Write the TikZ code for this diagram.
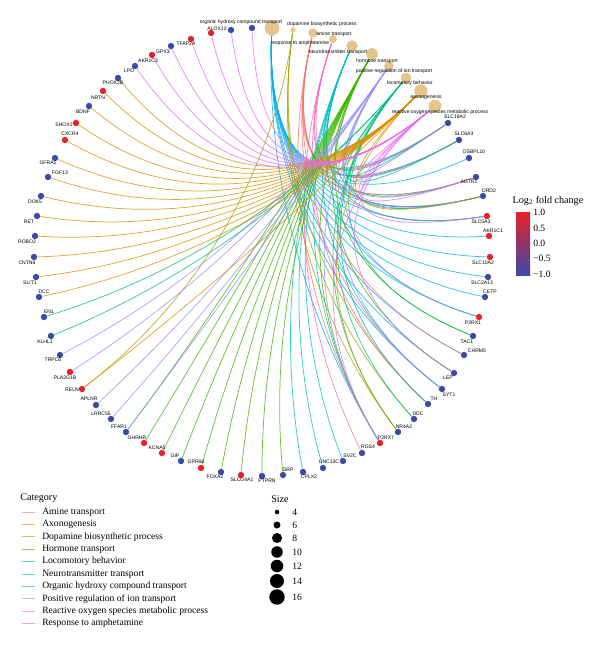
\documentclass[tikz,border=0pt]{standalone}
\usepackage{fontspec}
\setmainfont{Liberation Serif}
\newfontfamily\genefont{Liberation Sans}
\usetikzlibrary{calc,backgrounds}

\definecolor{up}{HTML}{E8202A}
\definecolor{down}{HTML}{3A4AA6}
\definecolor{catfill}{HTML}{E6C48E}
\definecolor{cAmine}{HTML}{F8766D}
\definecolor{cAxon}{HTML}{D89000}
\definecolor{cDopa}{HTML}{A3A500}
\definecolor{cHorm}{HTML}{39B600}
\definecolor{cLoco}{HTML}{00BF7D}
\definecolor{cNeuro}{HTML}{00BFC4}
\definecolor{cOrg}{HTML}{00B0F6}
\definecolor{cIon}{HTML}{9590FF}
\definecolor{cRos}{HTML}{E76BF3}
\definecolor{cAmph}{HTML}{FF62BC}

\begin{document}
\begin{tikzpicture}[x=0.75pt, y=-0.75pt,
		gene/.style={circle, inner sep=0pt, minimum size=4.8pt},
		glab/.style={font=\genefont\fontsize{3.8}{4}\selectfont, inner sep=0pt},
		catnode/.style={circle, fill=catfill, inner sep=0pt, minimum size=#1},
		link/.style={line width=0.55pt, draw opacity=0.8, draw=#1},
		legtext/.style={font=\fontsize{7.2}{8}\selectfont, anchor=west, inner sep=0pt},
		legline/.style={line width=0.6pt, draw opacity=0.6, draw=#1}
	]
	\useasboundingbox (0,0) rectangle (600,650);
	\coordinate (O) at (262,250);

	% categories
	\node[catnode=11.2pt] (org) at (272,28) {};
	\node[catnode=4pt] (dopa) at (293,30) {};
	\node[catnode=7pt] (amine) at (313,33) {};
	\node[catnode=6pt] (amph) at (333,39) {};
	\node[catnode=8.5pt] (neuro) at (352,46) {};
	\node[catnode=8.8pt] (horm) at (372,54) {};
	\node[catnode=7.3pt] (ion) at (389,66) {};
	\node[catnode=8pt] (loco) at (406,78) {};
	\node[catnode=10pt] (axon) at (421,91) {};
	\node[catnode=9.5pt] (ros) at (435,106) {};

	\node[glab] (torg) at (241,22) {organic hydroxy compound transport};
	\node[glab] (tdopa) at (322,24) {dopamine biosynthetic process};
	\node[glab] (tamine) at (334,34) {amine transport};
	\node[glab] (tamph) at (300,43) {response to amphetamine};
	\node[glab] (tneuro) at (338,52) {neurotransmitter transport};
	\node[glab] (thorm) at (377,61) {hormone transport};
	\node[glab] (tion) at (394,71) {positive regulation of ion transport};
	\node[glab] (tloco) at (410,83) {locomotory behavior};
	\node[glab] (taxon) at (426,97) {axonogenesis};
	\node[glab] (tros) at (440,112) {reactive oxygen species metabolic process};

	% genes
	\node[gene, fill=down] (SLC18A2) at (448,123) {};
	\node[gene, fill=down] (SLC6A3) at (459,140) {};
	\node[gene, fill=down] (OSBPL10) at (469,158) {};
	\node[gene, fill=down] (AGTR1) at (476,177) {};
	\node[gene, fill=down] (DRD2) at (483,196) {};
	\node[gene, fill=up] (SLC5A3) at (487,216) {};
	\node[gene, fill=up] (AKR1C1) at (489,236) {};
	\node[gene, fill=up] (SLC10A2) at (490,257) {};
	\node[gene, fill=down] (SLC2A13) at (488,277) {};
	\node[gene, fill=down] (CETP) at (485,297) {};
	\node[gene, fill=up] (P2RX1) at (479,317) {};
	\node[gene, fill=down] (TAC1) at (473,336) {};
	\node[gene, fill=down] (CHRM5) at (464,355) {};
	\node[gene, fill=down] (LEP) at (454,373) {};
	\node[gene, fill=down] (SYT1) at (442,389) {};
	\node[gene, fill=down] (TH) at (428,404) {};
	\node[gene, fill=down] (DDC) at (414,419) {};
	\node[gene, fill=down] (NR4A2) at (398,432) {};
	\node[gene, fill=up] (P2RX7) at (380,443) {};
	\node[gene, fill=down] (RGS4) at (362,453) {};
	\node[gene, fill=down] (SV2C) at (343,461) {};
	\node[gene, fill=down] (UNC13C) at (323,468) {};
	\node[gene, fill=down] (CPLX2) at (303,472) {};
	\node[gene, fill=down] (GRP) at (283,475) {};
	\node[gene, fill=down] (PTPRN) at (262,476) {};
	\node[gene, fill=up] (SLCO4A1) at (241,475) {};
	\node[gene, fill=down] (FOXA2) at (221,472) {};
	\node[gene, fill=up] (GPR68) at (201,468) {};
	\node[gene, fill=down] (GIP) at (181,461) {};
	\node[gene, fill=up] (KCNA5) at (162,453) {};
	\node[gene, fill=up] (GHRHR) at (144,443) {};
	\node[gene, fill=down] (FFAR1) at (126,432) {};
	\node[gene, fill=down] (LRRC55) at (111,419) {};
	\node[gene, fill=down] (APLNR) at (96,405) {};
	\node[gene, fill=up] (RELN) at (82,389) {};
	\node[gene, fill=up] (PLA2G1B) at (70,372) {};
	\node[gene, fill=down] (TRPC6) at (60,355) {};
	\node[gene, fill=down] (KLHL1) at (51,336) {};
	\node[gene, fill=down] (EN1) at (44,317) {};
	\node[gene, fill=down] (DCC) at (39,297) {};
	\node[gene, fill=down] (SLIT1) at (36,277) {};
	\node[gene, fill=down] (CNTN6) at (34,257) {};
	\node[gene, fill=down] (ROBO2) at (35,236) {};
	\node[gene, fill=down] (RET) at (37,216) {};
	\node[gene, fill=down] (DOK5) at (41,196) {};
	\node[gene, fill=down] (FGF13) at (48,177) {};
	\node[gene, fill=down] (GFRA1) at (55,158) {};
	\node[gene, fill=up] (CXCR4) at (65,140) {};
	\node[gene, fill=up] (SHOX2) at (76,123) {};
	\node[gene, fill=down] (BDNF) at (89,106) {};
	\node[gene, fill=up] (NRTN) at (103,91) {};
	\node[gene, fill=down] (PHOX2B) at (118,78) {};
	\node[gene, fill=down] (LPO) at (135,66) {};
	\node[gene, fill=up] (AKR1C3) at (152,55) {};
	\node[gene, fill=down] (GPX3) at (171,46) {};
	\node[gene, fill=up] (TFAP2A) at (191,39) {};
	\node[gene, fill=up] (ALOX12) at (211,33) {};
	\node[gene, fill=down] (topA) at (231,30) {};
	\node[gene, fill=down] (topB) at (252,28) {};

	% gene labels
	\node[glab] (tSLC18A2) at (455,117) {SLC18A2};
	\node[glab] (tSLC6A3) at (464,134) {SLC6A3};
	\node[glab] (tOSBPL10) at (474,152) {OSBPL10};
	\node[glab] (tAGTR1) at (469,182) {AGTR1};
	\node[glab] (tDRD2) at (489,191) {DRD2};
	\node[glab] (tSLC5A3) at (481,222) {SLC5A3};
	\node[glab] (tAKR1C1) at (493,231) {AKR1C1};
	\node[glab] (tSLC10A2) at (483,263) {SLC10A2};
	\node[glab] (tSLC2A13) at (482,283) {SLC2A13};
	\node[glab] (tCETP) at (490,292) {CETP};
	\node[glab] (tP2RX1) at (473,323) {P2RX1};
	\node[glab] (tTAC1) at (467,342) {TAC1};
	\node[glab] (tCHRM5) at (477,351) {CHRM5};
	\node[glab] (tLEP) at (448,378) {LEP};
	\node[glab] (tSYT1) at (449,395) {SYT1};
	\node[glab] (tTH) at (434,399) {TH};
	\node[glab] (tDDC) at (418,414) {DDC};
	\node[glab] (tNR4A2) at (404,427) {NR4A2};
	\node[glab] (tP2RX7) at (386,438) {P2RX7};
	\node[glab] (tRGS4) at (368,447) {RGS4};
	\node[glab] (tSV2C) at (350,456) {SV2C};
	\node[glab] (tUNC13C) at (329,462) {UNC13C};
	\node[glab] (tCPLX2) at (309,477) {CPLX2};
	\node[glab] (tGRP) at (288,470) {GRP};
	\node[glab] (tPTPRN) at (267,481) {PTPRN};
	\node[glab] (tSLCO4A1) at (242,480) {SLCO4A1};
	\node[glab] (tFOXA2) at (215,477) {FOXA2};
	\node[glab] (tGPR68) at (196,462) {GPR68};
	\node[glab] (tGIP) at (175,456) {GIP};
	\node[glab] (tKCNA5) at (157,448) {KCNA5};
	\node[glab] (tGHRHR) at (137,438) {GHRHR};
	\node[glab] (tFFAR1) at (119,427) {FFAR1};
	\node[glab] (tLRRC55) at (101,414) {LRRC55};
	\node[glab] (tAPLNR) at (89,399) {APLNR};
	\node[glab] (tRELN) at (72,390) {RELN};
	\node[glab] (tPLA2G1B) at (65,378) {PLA2G1B};
	\node[glab] (tTRPC6) at (53,360) {TRPC6};
	\node[glab] (tKLHL1) at (45,342) {KLHL1};
	\node[glab] (tEN1) at (49,312) {EN1};
	\node[glab] (tDCC) at (44,292) {DCC};
	\node[glab] (tSLIT1) at (30,283) {SLIT1};
	\node[glab] (tCNTN6) at (27,263) {CNTN6};
	\node[glab] (tROBO2) at (27,242) {ROBO2};
	\node[glab] (tRET) at (29,222) {RET};
	\node[glab] (tDOK5) at (35,202) {DOK5};
	\node[glab] (tFGF13) at (60,173) {FGF13};
	\node[glab] (tGFRA1) at (48,163) {GFRA1};
	\node[glab] (tCXCR4) at (70,134) {CXCR4};
	\node[glab] (tSHOX2) at (64,125) {SHOX2};
	\node[glab] (tBDNF) at (83,112) {BDNF};
	\node[glab] (tNRTN) at (98,98) {NRTN};
	\node[glab] (tPHOX2B) at (113,83) {PHOX2B};
	\node[glab] (tLPO) at (129,71) {LPO};
	\node[glab] (tAKR1C3) at (148,61) {AKR1C3};
	\node[glab] (tGPX3) at (163,52) {GPX3};
	\node[glab] (tTFAP2A) at (186,44) {TFAP2A};
	\node[glab] (tALOX12) at (217,29) {ALOX12};

	% links
	\begin{scope}[on background layer]
		\foreach \g in {SLC18A2,SLC6A3,OSBPL10,AGTR1,DRD2,SLC5A3,AKR1C1,SLC10A2,SLC2A13,CETP,P2RX1,CHRM5,LEP,SYT1,P2RX7}
			\draw[link=cOrg] (org) .. controls ($(org)!0.65!(O)$) and ($(\g)!0.65!(O)$) .. (\g);
		\foreach \g in {TH,DDC,NR4A2,RELN}
			\draw[link=cDopa] (dopa) .. controls ($(dopa)!0.65!(O)$) and ($(\g)!0.65!(O)$) .. (\g);
		\foreach \g in {SLC18A2,SLC6A3,DRD2,AGTR1,SYT1,CHRM5,P2RX7,SLC5A3}
			\draw[link=cAmine] (amine) .. controls ($(amine)!0.65!(O)$) and ($(\g)!0.65!(O)$) .. (\g);
		\foreach \g in {SLC18A2,SLC6A3,DRD2,RGS4,TH}
			\draw[link=cAmph] (amph) .. controls ($(amph)!0.65!(O)$) and ($(\g)!0.65!(O)$) .. (\g);
		\foreach \g in {SLC18A2,SLC6A3,DRD2,SLC5A3,P2RX1,SYT1,CPLX2,UNC13C,SV2C,P2RX7}
			\draw[link=cNeuro] (neuro) .. controls ($(neuro)!0.65!(O)$) and ($(\g)!0.65!(O)$) .. (\g);
		\foreach \g in {GHRHR,KCNA5,GIP,GPR68,FOXA2,SLCO4A1,PTPRN,GRP,TAC1,LEP,AGTR1,FFAR1,P2RX7}
			\draw[link=cHorm] (horm) .. controls ($(horm)!0.65!(O)$) and ($(\g)!0.65!(O)$) .. (\g);
		\foreach \g in {TRPC6,PLA2G1B,APLNR,LRRC55,FFAR1,P2RX7,AGTR1,P2RX1,SYT1,DRD2}
			\draw[link=cIon] (ion) .. controls ($(ion)!0.65!(O)$) and ($(\g)!0.65!(O)$) .. (\g);
		\foreach \g in {EN1,KLHL1,TH,DDC,NR4A2,DRD2,SLC6A3,SLC18A2,TAC1}
			\draw[link=cLoco] (loco) .. controls ($(loco)!0.65!(O)$) and ($(\g)!0.65!(O)$) .. (\g);
		\foreach \g in {PHOX2B,NRTN,BDNF,SHOX2,CXCR4,GFRA1,FGF13,DOK5,RET,ROBO2,CNTN6,SLIT1,DCC,RELN,DRD2,NR4A2}
			\draw[link=cAxon] (axon) .. controls ($(axon)!0.65!(O)$) and ($(\g)!0.65!(O)$) .. (\g);
		\foreach \g in {topA,topB,ALOX12,TFAP2A,GPX3,AKR1C3,LPO,SLC18A2,AGTR1,SLC5A3,LEP,P2RX7}
			\draw[link=cRos] (ros) .. controls ($(ros)!0.65!(O)$) and ($(\g)!0.65!(O)$) .. (\g);
	\end{scope}

	% category legend
	\node[legtext, font=\fontsize{7.6}{8}\selectfont] (legcat) at (20,498) {Category};
	\coordinate (l1) at (22,512);
	\draw[legline=cAmine] (l1) -- ++(13,0);
	\node[legtext] (la1) at (42,512) {Amine transport};
	\coordinate (l2) at (22,524.4);
	\draw[legline=cAxon] (l2) -- ++(13,0);
	\node[legtext] (la2) at (42,524.4) {Axonogenesis};
	\coordinate (l3) at (22,536.8);
	\draw[legline=cDopa] (l3) -- ++(13,0);
	\node[legtext] (la3) at (42,536.8) {Dopamine biosynthetic process};
	\coordinate (l4) at (22,549.2);
	\draw[legline=cHorm] (l4) -- ++(13,0);
	\node[legtext] (la4) at (42,549.2) {Hormone transport};
	\coordinate (l5) at (22,561.6);
	\draw[legline=cLoco] (l5) -- ++(13,0);
	\node[legtext] (la5) at (42,561.6) {Locomotory behavior};
	\coordinate (l6) at (22,574);
	\draw[legline=cNeuro] (l6) -- ++(13,0);
	\node[legtext] (la6) at (42,574) {Neurotransmitter transport};
	\coordinate (l7) at (22,586.4);
	\draw[legline=cOrg] (l7) -- ++(13,0);
	\node[legtext] (la7) at (42,586.4) {Organic hydroxy compound transport};
	\coordinate (l8) at (22,598.8);
	\draw[legline=cIon] (l8) -- ++(13,0);
	\node[legtext] (la8) at (42,598.8) {Positive regulation of ion transport};
	\coordinate (l9) at (22,611.2);
	\draw[legline=cRos] (l9) -- ++(13,0);
	\node[legtext] (la9) at (42,611.2) {Reactive oxygen species metabolic process};
	\coordinate (l10) at (22,623.6);
	\draw[legline=cAmph] (l10) -- ++(13,0);
	\node[legtext] (la10) at (42,623.6) {Response to amphetamine};

	% size legend
	\node[legtext, anchor=center, font=\fontsize{7.6}{8}\selectfont] (legsize) at (280,499) {Size};
	\node[circle, fill=black, inner sep=0pt, minimum size=3.4pt] (s4) at (277,512) {};
	\node[circle, fill=black, inner sep=0pt, minimum size=5.2pt] (s6) at (277,525) {};
	\node[circle, fill=black, inner sep=0pt, minimum size=7.5pt] (s8) at (277,538) {};
	\node[circle, fill=black, inner sep=0pt, minimum size=8.6pt] (s10) at (277,552) {};
	\node[circle, fill=black, inner sep=0pt, minimum size=9.4pt] (s12) at (277,566) {};
	\node[circle, fill=black, inner sep=0pt, minimum size=10.5pt] (s14) at (277,581) {};
	\node[circle, fill=black, inner sep=0pt, minimum size=11.6pt] (s16) at (277,597) {};
	\node[legtext] (n4) at (292,512) {4};
	\node[legtext] (n6) at (292,525) {6};
	\node[legtext] (n8) at (292,538) {8};
	\node[legtext] (n10) at (292,552) {10};
	\node[legtext] (n12) at (292,566) {12};
	\node[legtext] (n14) at (292,581) {14};
	\node[legtext] (n16) at (292,597) {16};

	% fold change bar
	\node[legtext, anchor=center, font=\fontsize{7.6}{8}\selectfont] (legfc) at (548,201) {Log\textsubscript{2} fold change};
	\shade[top color=up, middle color={rgb,255:red,200;green,30;blue,140}, bottom color=down] (516,212) rectangle (530,275);
	\node[legtext] (f1) at (533,212) {1.0};
	\node[legtext] (f2) at (533,228) {0.5};
	\node[legtext] (f3) at (533,243) {0.0};
	\node[legtext] (f4) at (533,258) {−0.5};
	\node[legtext] (f5) at (533,274) {−1.0};
\end{tikzpicture}
\end{document}
